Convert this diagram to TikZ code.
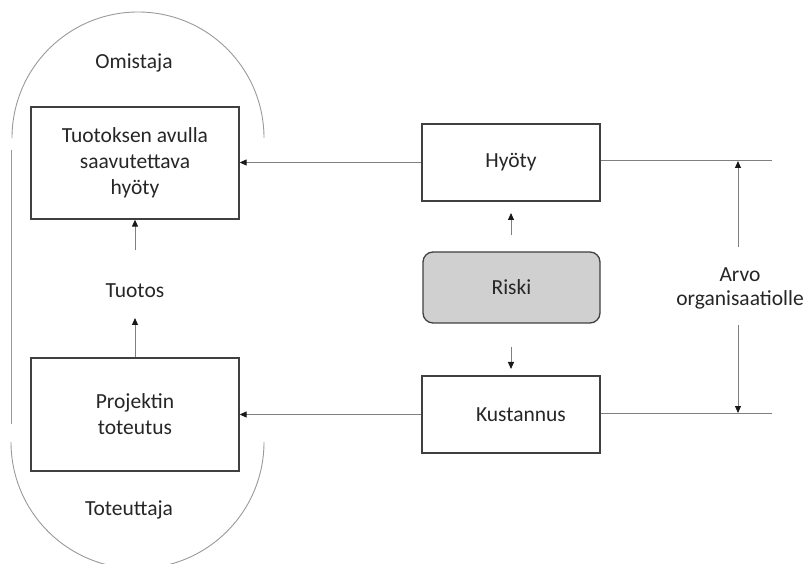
\documentclass[tikz,border=0pt]{standalone}
\usepackage{fontspec}
\setmainfont{Carlito}
\usetikzlibrary{arrows.meta}
\definecolor{edge}{HTML}{404040}
\definecolor{wire}{HTML}{7F7F7F}
\definecolor{riskfill}{HTML}{D0D0D0}
\begin{document}
\begin{tikzpicture}[x=1pt,y=-1pt,
  every node/.style={font=\fontsize{21.5}{26}\selectfont, text=black!85},
  box/.style={draw=edge, line width=1.3pt, fill=white, align=center, inner sep=0pt},
  riskbox/.style={box, fill=riskfill, rounded corners=10pt},
  label/.style={align=center, inner sep=0pt},
  conn/.style={draw=wire, line width=1pt, -{Triangle[length=7pt,width=6pt,color=black!90]}},
  plain/.style={draw=wire, line width=1pt},
  arch/.style={draw=gray!80, line width=0.9pt}]
\useasboundingbox (0,0) rectangle (804,564);

% owner / implementer enclosure
\draw[arch] (12,138) arc[start angle=180, end angle=0, radius=126pt];
\draw[arch] (11,442) arc[start angle=180, end angle=360, radius=126.5pt];
\draw[arch] (11,150) -- (11,424);

% boxes
\node[box, minimum width=208pt, minimum height=112pt] (tuo) at (135,163)
  {Tuotoksen avulla\\saavutettava\\hyöty};
\node[box, minimum width=208pt, minimum height=113pt] (proj) at (135,414.5)
  {Projektin\\toteutus};
\node[box, minimum width=178pt, minimum height=77pt] (hyoty) at (511,162.5) {Hyöty};
\node[riskbox, minimum width=177pt, minimum height=71pt] (riski) at (511.5,287.5) {Riski};
\node[box, minimum width=178pt, minimum height=77pt] (kust) at (511,414.5)
  {\hspace*{20pt}Kustannus};

% free texts
\node[label] (omist) at (134,63) {Omistaja};
\node[label] (toteut) at (129,510) {Toteuttaja};
\node[label] (tuotos) at (135,291) {Tuotos};
\node[label, font=\fontsize{21.5}{24}\selectfont] (arvo) at (740,288) {Arvo\\organisaatiolle};

% connector end points
\coordinate (tuoIn) at (135,250);
\coordinate (projOut) at (135,318);
\coordinate (rUpS) at (511,235);
\coordinate (rUpE) at (511,213);
\coordinate (rDnS) at (511,347);
\coordinate (rDnE) at (511,369);
\coordinate (hEnd) at (772,161);
\coordinate (kEnd) at (772,413);
\coordinate (aTopS) at (738,247);
\coordinate (aTopE) at (738,161);
\coordinate (aBotS) at (738,325);
\coordinate (aBotE) at (738,413);

% connectors
\draw[conn] (hyoty.west) -- (tuo.east |- hyoty.west);
\draw[conn] (kust.west) -- (proj.east |- kust.west);
\draw[conn] (proj.north) -- (projOut);
\draw[conn] (tuoIn) -- (tuo.south);
\draw[conn] (rUpS) -- (rUpE);
\draw[conn] (rDnS) -- (rDnE);
\draw[plain] (hyoty.east |- hEnd) -- (hEnd);
\draw[plain] (kust.east |- kEnd) -- (kEnd);
\draw[conn] (aTopS) -- (aTopE);
\draw[conn] (aBotS) -- (aBotE);
\end{tikzpicture}
\end{document}
